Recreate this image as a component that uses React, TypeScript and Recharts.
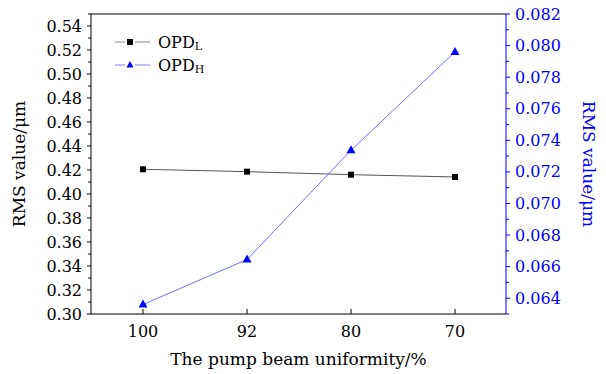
import { LineChart, Line, XAxis, YAxis, ReferenceLine } from 'recharts';

const uniformity = ['100', '92', '80', '70'];
const opdL = [0.4206, 0.4186, 0.4161, 0.4142];
const opdH = [0.0636, 0.06645, 0.07337, 0.0796];

const leftTicks = [0.3, 0.31, 0.32, 0.33, 0.34, 0.35, 0.36, 0.37, 0.38, 0.39, 0.4, 0.41, 0.42, 0.43, 0.44, 0.45, 0.46, 0.47, 0.48, 0.49, 0.5, 0.51, 0.52, 0.53, 0.54, 0.55];
const rightTicks = [0.063, 0.064, 0.065, 0.066, 0.067, 0.068, 0.069, 0.07, 0.071, 0.072, 0.073, 0.074, 0.075, 0.076, 0.077, 0.078, 0.079, 0.08, 0.081, 0.082];

const data = uniformity.map((u, i) => ({ u, L: opdL[i], H: opdH[i] }));

const FONT = '"DejaVu Serif", serif';
const BLUE = '#0000ff';

function LeftTick({ x, y, payload }: any) {
  const v = payload.value;
  const major = Math.round(v * 100) % 2 === 0;
  return (
    <g>
      <line x1={x} x2={x - (major ? 4 : 3)} y1={y} y2={y} stroke="#000" />
      {major && v < 0.545 && (
        <text x={x - 9} y={y} textAnchor="end" dominantBaseline="central" fontSize={16} fontFamily={FONT} fill="#000">
          {v.toFixed(2)}
        </text>
      )}
    </g>
  );
}

function RightTick({ x, y, payload }: any) {
  const v = payload.value;
  const major = Math.round(v * 1000) % 2 === 0;
  return (
    <g>
      <line x1={x} x2={x + (major ? 4 : 3)} y1={y} y2={y} stroke={BLUE} />
      {major && (
        <text x={x + 9} y={y} textAnchor="start" dominantBaseline="central" fontSize={16} fontFamily={FONT} fill={BLUE}>
          {v.toFixed(3)}
        </text>
      )}
    </g>
  );
}

function BottomTick({ x, y, payload }: any) {
  return (
    <g>
      <line x1={x} x2={x} y1={y} y2={y - 5} stroke="#000" />
      <text x={x} y={y + 17} textAnchor="middle" dominantBaseline="central" fontSize={16} fontFamily={FONT} fill="#000">
        {payload.value}
      </text>
    </g>
  );
}

function SquareDot({ cx, cy, index }: any) {
  return <rect key={'s' + index} x={cx - 3} y={cy - 3} width={6} height={6} fill="#000" />;
}

function TriangleDot({ cx, cy, index }: any) {
  return <path key={'t' + index} d={`M${cx},${cy - 5} L${cx + 4.5},${cy + 3} L${cx - 4.5},${cy + 3} Z`} fill={BLUE} />;
}

function LegendBox() {
  const rows = [
    { sub: 'L', line: '#888', color: '#000', shape: 'sq' },
    { sub: 'H', line: '#8080ff', color: BLUE, shape: 'tri' },
  ];
  return (
    <svg width={140} height={50} style={{ display: 'block' }}>
      {rows.map((r, i) => {
        const cy = 12 + i * 23;
        return (
          <g key={r.sub}>
            <line x1={5} x2={15} y1={cy} y2={cy} stroke={r.line} />
            <line x1={25} x2={40} y1={cy} y2={cy} stroke={r.line} />
            {r.shape === 'sq' ? (
              <rect x={17} y={cy - 3} width={6} height={6} fill={r.color} />
            ) : (
              <path d={`M20,${cy - 4} L23.5,${cy + 2.5} L16.5,${cy + 2.5} Z`} fill={r.color} />
            )}
            <text x={48} y={cy} dominantBaseline="central" fontSize={16} fontFamily={FONT} fill="#000">
              OPD<tspan fontSize={11} dy={4}>{r.sub}</tspan>
            </text>
          </g>
        );
      })}
    </svg>
  );
}

export default function App() {
  return (
    <div style={{ width: 606, height: 374, background: '#fff', position: 'relative' }}>
      <style>{'body{margin:0}'}</style>
      <LineChart width={606} height={374} data={data} margin={{ top: 14, right: 0, left: 0, bottom: 0 }}>
        <XAxis
          dataKey="u"
          height={60}
          padding={{ left: 52, right: 51 }}
          tickSize={0}
          tickMargin={0}
          tickLine={false}
          tick={<BottomTick />}
          axisLine={{ stroke: '#000' }}
          label={{ value: 'The pump beam uniformity/%', position: 'insideBottom', offset: 9, fontSize: 17, fontFamily: FONT, fill: '#000' }}
        />
        <YAxis
          yAxisId="left"
          width={91}
          domain={[0.3, 0.55]}
          ticks={leftTicks}
          interval={0}
          tickSize={0}
          tickMargin={0}
          tickLine={false}
          tick={<LeftTick />}
          axisLine={{ stroke: '#000' }}
          label={{ value: 'RMS value/μm', angle: -90, position: 'insideLeft', offset: 19, fontSize: 17, fontFamily: FONT, fill: '#000', style: { textAnchor: 'middle' } }}
        />
        <YAxis
          yAxisId="right"
          orientation="right"
          width={100}
          domain={[0.063, 0.082]}
          ticks={rightTicks}
          interval={0}
          tickSize={0}
          tickMargin={0}
          tickLine={false}
          tick={<RightTick />}
          axisLine={{ stroke: BLUE }}
          label={{ value: 'RMS value/μm', angle: 90, position: 'insideRight', offset: 17, fontSize: 17, fontFamily: FONT, fill: BLUE, style: { textAnchor: 'middle' } }}
        />
        <ReferenceLine yAxisId="left" y={0.55} stroke="#000" />
        <Line
          yAxisId="left"
          dataKey="L"
          name="OPDL"
          stroke="#555"
          strokeWidth={1}
          dot={<SquareDot />}
          activeDot={false}
          isAnimationActive={false}
        />
        <Line
          yAxisId="right"
          dataKey="H"
          name="OPDH"
          stroke="#7070ff"
          strokeWidth={1}
          dot={<TriangleDot />}
          activeDot={false}
          isAnimationActive={false}
        />
      </LineChart>
      <div style={{ position: 'absolute', left: 110, top: 30 }}>
        <LegendBox />
      </div>
    </div>
  );
}
